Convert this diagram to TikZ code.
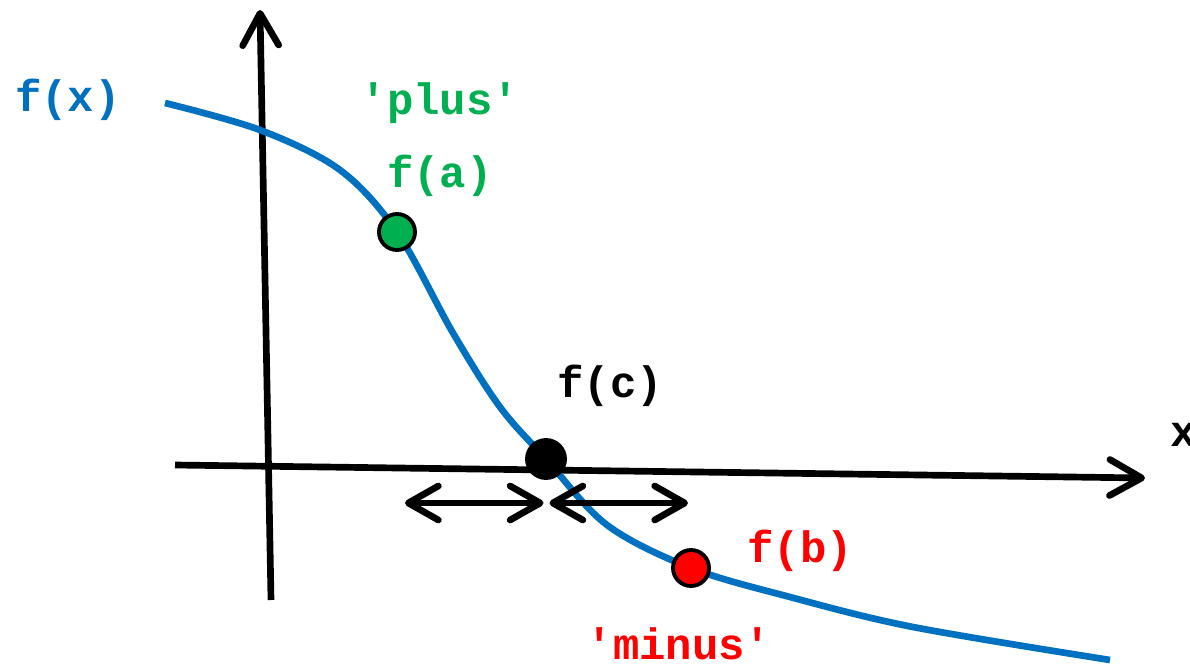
\documentclass[tikz,border=0pt]{standalone}
\usepackage{fontspec}
\newfontfamily\monofont{Liberation Mono}
\usepackage{tikz}
\usetikzlibrary{arrows.meta, positioning, calc}

\definecolor{curveblue}{RGB}{0,112,192}
\definecolor{plusgreen}{RGB}{0,176,80}
\definecolor{minusred}{RGB}{255,0,0}

\begin{document}
\begin{tikzpicture}[
        lbl/.style={font=\monofont\bfseries\fontsize{12.5}{15}\selectfont, inner sep=1pt},
        dot/.style={circle, draw=black, line width=1.1pt, minimum size=0.36cm, inner sep=0pt},
        axis/.style={line width=1.9pt, -{Straight Barb[round, length=3.2mm, width=3.6mm, line width=1.9pt]}},
        span/.style={line width=1.9pt, {Straight Barb[round, length=3.0mm, width=3.4mm, line width=1.9pt]}-{Straight Barb[round, length=3.0mm, width=3.4mm, line width=1.9pt]}}
    ]
\useasboundingbox (0,0) rectangle (11.9,-6.67);

% Axes
\coordinate (xs) at (1.75,-4.65);
\coordinate (xe) at (11.45,-4.78);
\coordinate (ys) at (2.71,-6.00);
\coordinate (ye) at (2.60,-0.10);
\draw[axis] (xs) -- (xe);
\draw[axis] (ys) -- (ye);
\node[lbl] (xl) at (11.84,-4.35) {x};

% The function
\draw[curveblue, line width=1.9pt] plot[smooth, tension=0.55] coordinates {
    (1.65,-1.03) (2.60,-1.30) (3.40,-1.70) (3.97,-2.32) (4.53,-3.33)
    (5.00,-4.07) (5.46,-4.59) (6.07,-5.25) (6.91,-5.68) (7.90,-5.97)
    (9.13,-6.27) (11.10,-6.60)};
\node[lbl, text=curveblue] (fx) at (0.68,-1.00) {f(x)};

% Points on the curve
\node[dot, fill=plusgreen] (fa) at (3.97,-2.32) {};
\node[dot, fill=minusred] (fb) at (6.91,-5.68) {};
\node[dot, fill=black, minimum size=0.38cm] (fc) at (5.46,-4.59) {};

% Labels
\node[lbl, text=plusgreen] (plus) at (4.40,-1.03) {'plus'};
\node[lbl, text=plusgreen] (la) at (4.40,-1.76) {f(a)};
\node[lbl] (lc) at (6.10,-3.86) {f(c)};
\node[lbl, text=minusred] (lb) at (8.00,-5.51) {f(b)};
\node[lbl, text=minusred] (minus) at (6.79,-6.44) {'minus'};

% Search interval around c
\coordinate (sl) at (4.05,-5.03);
\coordinate (sm) at (5.465,-5.03);
\coordinate (sr) at (6.88,-5.03);
\draw[span] (sl) -- ($(sm)+(-0.03,0)$);
\draw[span] ($(sm)+(0.03,0)$) -- (sr);
\end{tikzpicture}
\end{document}
